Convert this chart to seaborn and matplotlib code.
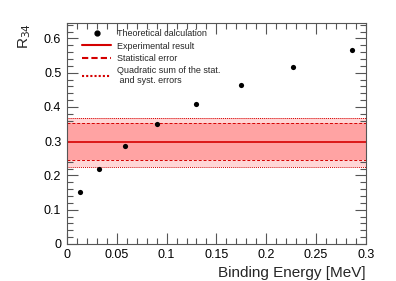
import matplotlib
matplotlib.use("Agg")
import matplotlib.pyplot as plt
import seaborn as sns
import pandas as pd
from matplotlib.lines import Line2D
from matplotlib.ticker import MultipleLocator

# Data
binding_energy = [0.013, 0.032, 0.058, 0.090, 0.130, 0.175, 0.227, 0.286]
r34_theory = [0.152, 0.219, 0.286, 0.350, 0.408, 0.464, 0.516, 0.566]
exp_value = 0.298
stat_err_up = 0.054
stat_err_down = 0.054
tot_err_up = 0.071
tot_err_down = 0.074
legend_labels = ["Theoretical calculation", "Experimental result", "Statistical error",
                 "Quadratic sum of the stat.\n and syst. errors"]

sns.set_style("ticks")
plt.rcParams['font.family'] = ['Liberation Sans', 'DejaVu Sans']

fig = plt.figure(figsize=(3.96, 2.81), dpi=100)
ax = fig.add_axes([0.169, 0.132, 0.755, 0.786])

red = "#d40000"
# bands
ax.axhspan(exp_value - tot_err_down, exp_value + tot_err_up, color="#ffd6d6", lw=0, zorder=0)
ax.axhspan(exp_value - stat_err_down, exp_value + stat_err_up, color="#ffa3a3", lw=0, zorder=1)
ax.axhline(exp_value, color=red, lw=1.2, zorder=2)
for v in (exp_value - stat_err_down, exp_value + stat_err_up):
    ax.axhline(v, color=red, lw=0.7, ls=(0, (3, 2)), zorder=2)
for v in (exp_value - tot_err_down, exp_value + tot_err_up):
    ax.axhline(v, color=red, lw=0.7, ls=(0, (1, 1)), zorder=2)

df = pd.DataFrame({"E": binding_energy, "R": r34_theory})
sns.scatterplot(data=df, x="E", y="R", ax=ax, color="black", s=14, edgecolor="black",
                linewidth=0, zorder=3)

ax.set_xlim(0, 0.3)
ax.set_ylim(0, 0.645)
ax.xaxis.set_major_locator(MultipleLocator(0.05))
ax.xaxis.set_minor_locator(MultipleLocator(0.01))
ax.yaxis.set_major_locator(MultipleLocator(0.1))
ax.yaxis.set_minor_locator(MultipleLocator(0.02))
ax.set_xticklabels(["0", "0.05", "0.1", "0.15", "0.2", "0.25", "0.3"]) if False else None
ax.xaxis.set_major_formatter(matplotlib.ticker.FuncFormatter(lambda v, p: f"{v:g}"))
ax.yaxis.set_major_formatter(matplotlib.ticker.FuncFormatter(lambda v, p: f"{v:g}"))
ax.tick_params(which="both", direction="in", top=True, right=True, colors="#555555",
               labelcolor="black", labelsize=9, width=0.8)
ax.tick_params(which="major", length=8, pad=4)
ax.tick_params(which="minor", length=4)
for s in ax.spines.values():
    s.set_color("#555555")
    s.set_linewidth(0.8)

ax.set_xlabel("Binding Energy [MeV]", fontsize=11, loc="right", labelpad=3)
ax.set_ylabel("R$_{34}$", fontsize=11, loc="top", labelpad=8)

handles = [
    Line2D([], [], marker="o", color="black", ls="none", markersize=3.5),
    Line2D([], [], color=red, lw=1.5),
    Line2D([], [], color=red, lw=1.5, ls=(0, (3, 1.5))),
    Line2D([], [], color=red, lw=1.5, ls=(0, (1, 1))),
]
ax.legend(handles, legend_labels, loc="upper left", bbox_to_anchor=(0.03, 1.0),
          frameon=False, fontsize=6.5, handlelength=3.2, handletextpad=0.6,
          labelspacing=0.35, borderaxespad=0.3)

fig.savefig("out.png", dpi=100)
